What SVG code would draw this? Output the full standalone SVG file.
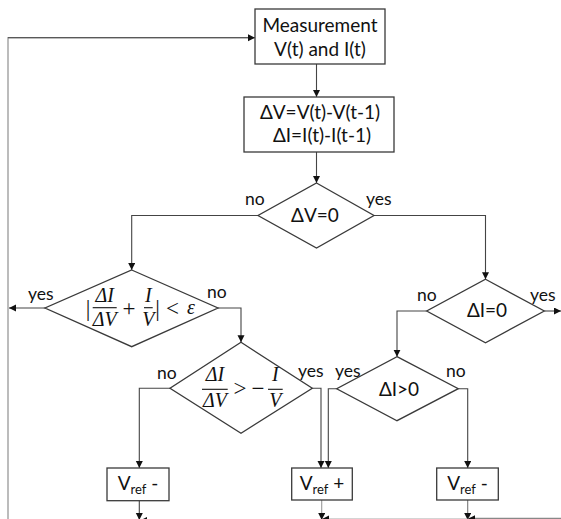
<svg xmlns="http://www.w3.org/2000/svg" width="561" height="519" viewBox="0 0 561 519">
<defs>
<marker id="ah" markerUnits="userSpaceOnUse" markerWidth="8" markerHeight="8" refX="7" refY="3.5" orient="auto">
<path d="M0,0 L7,3.5 L0,7 z" fill="#111"/>
</marker>
<style>
.box{fill:#fff;stroke:#3a3a3a;stroke-width:1.3}
.c{fill:none;stroke:#444;stroke-width:1.1;marker-end:url(#ah)}
.cl{fill:none;stroke:#999;stroke-width:1.3}
.t{font-family:Lato,"Open Sans","Liberation Sans",sans-serif;font-size:19px;fill:#111;text-anchor:middle}
.l{font-family:Lato,"Open Sans","Liberation Sans",sans-serif;font-size:17.5px;fill:#111}
.m{font-family:"Liberation Serif","DejaVu Serif",serif;font-style:italic;font-size:20px;fill:#111;text-anchor:middle}
.mu{font-family:"Liberation Serif","DejaVu Serif",serif;font-size:23px;fill:#111;text-anchor:middle}
.sub{font-size:13px}
.bar{stroke:#111;stroke-width:1.1}
</style>
</defs>
<rect width="561" height="519" fill="#fff"/>
<g id="connectors">
<path class="cl" d="M8,519 V37.7 H250"/>
<path class="c" d="M8,37.7 H255"/>
<path class="c" d="M316.5,64 V97"/>
<path class="c" d="M316.5,152 V183"/>
<path class="c" d="M258,215.5 H131.7 V270"/>
<path class="c" d="M374,215.5 H485.5 V279.3"/>
<path class="c" d="M45,308 H9"/>
<path class="c" d="M218,308 H241 V342.3"/>
<path class="c" d="M170,388.3 H139.3 V468"/>
<path class="c" d="M312.3,388.3 H321 V468"/>
<path class="c" d="M426.7,311 H397 V356.7"/>
<path class="c" d="M544.3,311 H561"/>
<path class="c" d="M336.7,388.7 H328.3 V468"/>
<path class="c" d="M458.3,388.7 H467.7 V468"/>
<path class="c" style="stroke:#444" d="M139.3,500.7 V520"/>
<path class="c" style="stroke:#999" d="M321.7,500 V520"/>
<path class="c" style="stroke:#777" d="M467.7,500 V520"/>
<path class="c" style="stroke:#888;stroke-width:2" d="M561,518.8 H468"/>
<path class="c" style="stroke:#aaa" d="M467.7,519 H322"/>
<path class="c" d="M321.7,520.5 H140"/>
</g>
<g id="measure">
<rect class="box" x="255" y="9" width="130" height="55"/>
<text class="t" x="320" y="32">Measurement</text>
<text class="t" x="320" y="56">V(t) and I(t)</text>
</g>
<g id="delta">
<rect class="box" x="244" y="97" width="150" height="55"/>
<text class="t" x="320" y="119">ΔV=V(t)-V(t-1)</text>
<text class="t" x="322" y="142">ΔI=I(t)-I(t-1)</text>
</g>
<g id="dv0">
<polygon class="box" points="316.5,183 374,215.5 316.5,248 258,215.5"/>
<text class="t" x="315" y="222">ΔV=0</text>
<text class="l" x="245" y="205">no</text>
<text class="l" x="366" y="205">yes</text>
</g>
<g id="absd">
<polygon class="box" points="131.7,270 218,308 131.7,346.7 45,308"/>
<text class="mu" x="88" y="316">|</text>
<text class="m" x="104.7" y="302">ΔI</text>
<line class="bar" x1="92.7" y1="307.7" x2="116.7" y2="307.7"/>
<text class="m" x="104.7" y="326">ΔV</text>
<text class="mu" x="129" y="315.5">+</text>
<text class="m" x="148.3" y="302">I</text>
<line class="bar" x1="144" y1="307.7" x2="152.7" y2="307.7"/>
<text class="m" x="148.3" y="326">V</text>
<text class="mu" x="157.5" y="316">|</text>
<text class="mu" x="172.5" y="315.5">&lt;</text>
<text class="m" x="191" y="314">ε</text>
<text class="l" x="28" y="300">yes</text>
<text class="l" x="207" y="298">no</text>
</g>
<g id="slope">
<polygon class="box" points="241,342.3 312.3,388.3 241,433.3 170,388.3"/>
<text class="m" x="215" y="381">ΔI</text>
<line class="bar" x1="202" y1="389.3" x2="227.7" y2="389.3"/>
<text class="m" x="215" y="407">ΔV</text>
<text class="mu" x="240" y="396">&gt;</text>
<text class="mu" x="258" y="396">−</text>
<text class="m" x="275.3" y="381">I</text>
<line class="bar" x1="268" y1="389.3" x2="282.7" y2="389.3"/>
<text class="m" x="275.3" y="407">V</text>
<text class="l" x="157" y="379">no</text>
<text class="l" x="298" y="377">yes</text>
</g>
<g id="di0">
<polygon class="box" points="485.5,279.3 544.3,311 485.5,342.7 426.7,311"/>
<text class="t" x="487" y="317">ΔI=0</text>
<text class="l" x="417" y="301">no</text>
<text class="l" x="530" y="301">yes</text>
</g>
<g id="digt0">
<polygon class="box" points="397,356.7 458.3,388.7 397,420.7 336.7,388.7"/>
<text class="t" x="399" y="396">ΔI&gt;0</text>
<text class="l" x="335" y="377">yes</text>
<text class="l" x="446" y="377">no</text>
</g>
<g id="vrefminus1">
<rect class="box" x="107" y="468" width="62" height="32.7"/>
<text class="t" x="138" y="490">V<tspan class="sub" dy="4">ref</tspan><tspan dy="-4"> -</tspan></text>
</g>
<g id="vrefplus">
<rect class="box" x="291.7" y="468" width="60.6" height="32"/>
<text class="t" x="322" y="490">V<tspan class="sub" dy="4">ref</tspan><tspan dy="-4"> +</tspan></text>
</g>
<g id="vrefminus2">
<rect class="box" x="436.7" y="468" width="61.6" height="32"/>
<text class="t" x="467.5" y="490">V<tspan class="sub" dy="4">ref</tspan><tspan dy="-4"> -</tspan></text>
</g>
</svg>
